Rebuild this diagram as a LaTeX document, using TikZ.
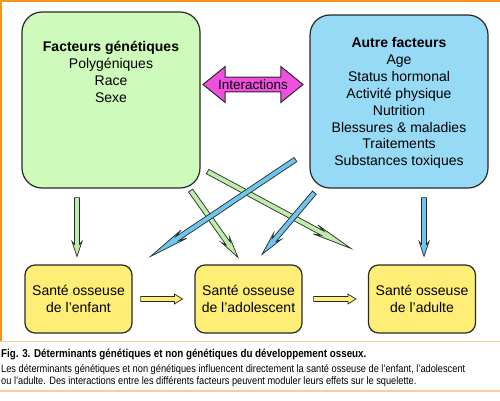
\documentclass[tikz,border=0pt]{standalone}
\usepackage{fontspec}
\setmainfont{Liberation Sans}
\newfontfamily\legendefont[FakeStretch=0.86]{Liberation Sans}
\usepackage{xcolor}
\usetikzlibrary{calc,shapes.arrows}
\definecolor{vertclair}{RGB}{206,250,188}
\definecolor{bleuclair}{RGB}{150,218,245}
\definecolor{jaune}{RGB}{255,238,118}
\definecolor{rose}{RGB}{240,80,222}
\definecolor{vertfleche}{RGB}{190,236,170}
\definecolor{bleufleche}{RGB}{110,198,238}
\definecolor{orangecadre}{RGB}{246,146,30}
\definecolor{orangepale}{RGB}{250,204,160}
\definecolor{trait}{RGB}{40,40,40}

\begin{document}
\begin{tikzpicture}[x=1pt, y=-1pt,
		font=\fontsize{14}{16.9}\selectfont,
		facteur/.style={draw=trait, line width=1.2pt, rounded corners=20pt, minimum width=178pt, inner sep=0pt},
		sante/.style={draw=trait, line width=1.2pt, rounded corners=10pt, fill=jaune, minimum width=107pt, minimum height=68pt, align=center, inner sep=0pt, font=\fontsize{14}{17}\selectfont},
		item/.style={align=center, anchor=north, inner sep=0pt},
		legende/.style={anchor=north west, align=left, inner sep=0pt, font=\legendefont\fontsize{10.75}{12}\selectfont},
		fleche/.style args={#1/#2/#3}{draw=trait, line width=0.7pt, fill=#1, to path={
			($(\tikztostart)!2.5pt!90:(\tikztotarget)$)
			-- ($($(\tikztotarget)!#3!(\tikztostart)$)!2.5pt!90:(\tikztotarget)$)
			-- ($($(\tikztotarget)!#2!(\tikztostart)$)!5pt!90:(\tikztotarget)$)
			-- (\tikztotarget)
			-- ($($(\tikztotarget)!#2!(\tikztostart)$)!5pt!-90:(\tikztotarget)$)
			-- ($($(\tikztotarget)!#3!(\tikztostart)$)!2.5pt!-90:(\tikztotarget)$)
			-- ($(\tikztostart)!2.5pt!-90:(\tikztotarget)$) -- cycle}}]
		\useasboundingbox (0,0) rectangle (500,401);
		\fill[white] (0,0) rectangle (500,401);
		\draw[orangecadre, line width=2pt] (0,1) -- (500,1);
		\draw[orangecadre, line width=1.6pt] (1,0) -- (1,341.5);
		\draw[orangepale, line width=1.5pt] (0,341.5) -- (500,341.5);
		\draw[orangepale, line width=2.2pt] (0,391) -- (500,391);

		\node[facteur, fill=vertclair, minimum height=176pt] (gen) at (111,100) {};
		\node[item] (gentxt) at ([yshift=-29.5pt]gen.north) {\textbf{Facteurs génétiques}\\Polygéniques\\Race\\Sexe};

		\node[facteur, fill=bleuclair, minimum height=173pt] (autres) at (399,101.5) {};
		\node[item] (autrestxt) at ([yshift=-22.8pt]autres.north) {\textbf{Autre facteurs}\\Age\\Status hormonal\\Activité physique\\Nutrition\\Blessures \& maladies\\Traitements\\Substances toxiques};

		\node[double arrow, draw=trait, line width=1pt, fill=rose, minimum height=100pt, double arrow head extend=10.5pt, double arrow tip angle=78, inner xsep=0pt, inner ysep=2pt, font=\fontsize{13.5}{15}\selectfont] (inter) at (253,84.5) {Interactions};

		\node[sante] (enfant) at (78.5,299) {Santé osseuse\\de l’enfant};
		\node[sante] (ado) at (248.5,299) {Santé osseuse\\de l’adolescent};
		\node[sante] (adulte) at (422,299) {Santé osseuse\\de l’adulte};

		\draw[fleche=vertfleche/15pt/12pt] ([xshift=-34pt,yshift=-9pt]gen.south) to ([xshift=-1.5pt,yshift=8pt]enfant.north);
		\draw[fleche=vertfleche/22pt/17pt] ([xshift=-10pt,yshift=-2pt]gen.south east) to ([xshift=-10.5pt,yshift=7pt]ado.north);
		\draw[fleche=vertfleche/40pt/32pt] ([xshift=7pt,yshift=17pt]gen.south east) to ([xshift=-17pt,yshift=16pt]adulte.north west);
		\draw[fleche=bleufleche/40pt/32pt] ([xshift=-14pt,yshift=29pt]autres.south west) to ([xshift=18pt,yshift=8pt]enfant.north east);
		\draw[fleche=bleufleche/24pt/19pt] ([xshift=5pt,yshift=-4pt]autres.south west) to ([xshift=13.5pt,yshift=10pt]ado.north);
		\draw[fleche=bleufleche/15pt/12pt] ([xshift=25pt,yshift=-9pt]autres.south) to ([xshift=2pt,yshift=8pt]adulte.north);

		\draw[fleche=jaune/8pt/8pt] ([xshift=8pt]enfant.east) to ([xshift=-12pt]ado.west);
		\draw[fleche=jaune/8pt/8pt] ([xshift=11pt]ado.east) to ([xshift=-12pt]adulte.west);

		\node[legende, font=\legendefont\bfseries\fontsize{11.4}{13}\selectfont] (titre) at (1,349.3) {Fig. 3. Déterminants génétiques et non génétiques du développement osseux.};
		\node[legende] (texte) at (1,364.5) {Les déterminants génétiques et non génétiques influencent directement la santé osseuse de l’enfant, l’adolescent\\ou l’adulte. Des interactions entre les différents facteurs peuvent moduler leurs effets sur le squelette.};
	\end{tikzpicture}
\end{document}
